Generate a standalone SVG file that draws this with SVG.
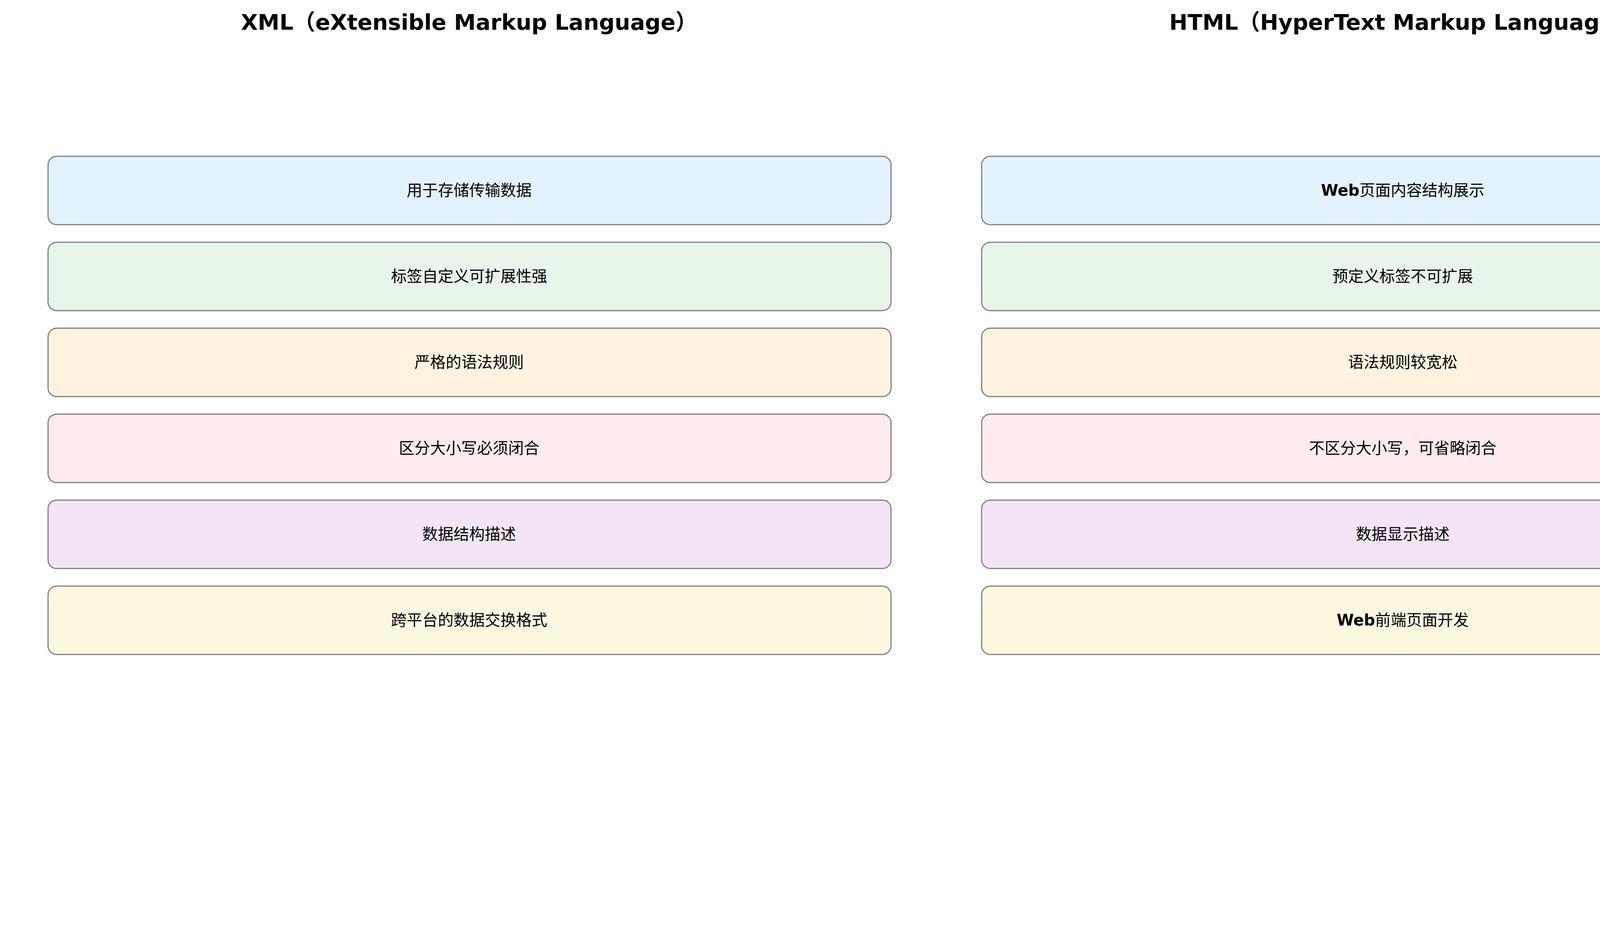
<svg xmlns="http://www.w3.org/2000/svg" width="4770" height="2370" viewBox="0 0 4770 2370">
<style>
.t{font-family:"DejaVu Sans","Noto Sans CJK SC",sans-serif;font-weight:bold;font-size:56px;text-anchor:middle;fill:#000}
.b{stroke:#808080;stroke-width:3}
.l{font-family:"DejaVu Sans","Noto Sans CJK SC",sans-serif;font-size:40px;text-anchor:middle;dominant-baseline:central;fill:#000}
.w{font-weight:bold}
.c1{fill:#E3F2FD}.c2{fill:#E8F5E9}.c3{fill:#FFF3E0}.c4{fill:#FFEBEE}.c5{fill:#F3E5F5}.c6{fill:#FFF8E1}
</style>
<rect width="4770" height="2370" fill="#fff"/>
<g id="title-xml"><text class="t" x="1201" y="76">XML（eXtensible Markup Language）</text></g>
<g id="title-html"><text class="t" x="3591" y="76">HTML（HyperText Markup Language）</text></g>
<g id="xml1"><rect class="b c1" x="123" y="400" width="2158" height="175" rx="22"/><text class="l" x="1201" y="487">用于存储传输数据</text></g>
<g id="xml2"><rect class="b c2" x="123" y="620" width="2158" height="175" rx="22"/><text class="l" x="1201" y="707">标签自定义可扩展性强</text></g>
<g id="xml3"><rect class="b c3" x="123" y="840" width="2158" height="175" rx="22"/><text class="l" x="1201" y="927">严格的语法规则</text></g>
<g id="xml4"><rect class="b c4" x="123" y="1060" width="2158" height="175" rx="22"/><text class="l" x="1201" y="1147">区分大小写必须闭合</text></g>
<g id="xml5"><rect class="b c5" x="123" y="1280" width="2158" height="175" rx="22"/><text class="l" x="1201" y="1367">数据结构描述</text></g>
<g id="xml6"><rect class="b c6" x="123" y="1500" width="2158" height="175" rx="22"/><text class="l" x="1201" y="1587">跨平台的数据交换格式</text></g>
<g id="html1"><rect class="b c1" x="2513" y="400" width="2156" height="175" rx="22"/><text class="l" x="3591" y="487"><tspan class="w">Web</tspan>页面内容结构展示</text></g>
<g id="html2"><rect class="b c2" x="2513" y="620" width="2156" height="175" rx="22"/><text class="l" x="3591" y="707">预定义标签不可扩展</text></g>
<g id="html3"><rect class="b c3" x="2513" y="840" width="2156" height="175" rx="22"/><text class="l" x="3591" y="927">语法规则较宽松</text></g>
<g id="html4"><rect class="b c4" x="2513" y="1060" width="2156" height="175" rx="22"/><text class="l" x="3591" y="1147">不区分大小写，可省略闭合</text></g>
<g id="html5"><rect class="b c5" x="2513" y="1280" width="2156" height="175" rx="22"/><text class="l" x="3591" y="1367">数据显示描述</text></g>
<g id="html6"><rect class="b c6" x="2513" y="1500" width="2156" height="175" rx="22"/><text class="l" x="3591" y="1587"><tspan class="w">Web</tspan>前端页面开发</text></g>
<g id="connectors"/>
</svg>
